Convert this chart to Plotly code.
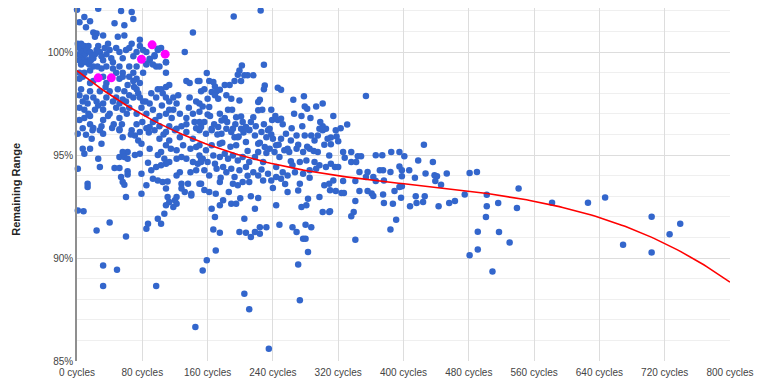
import numpy as np
import plotly.graph_objects as go

# ---------------- data (cycles, remaining range %) ----------------
# region: early cycles, upper part
cyc_a = [0,7,26,54,67,9,3,16,11,20,
         24,22,32,46,58,69,50,58,77,67,
         142,132,1,3,5,7,9,2,4,6,
         8,10,12,14,16,18,13,3,5,7,
         11,15,17,20,22,24,26,28,30,32,
         34,36,38,40,42,44,20,25,30,48,
         52,56,60,64,69,73,77,81,85,89,
         95,99,103,97,101,109,109,93,85,73,
         69,64,56,52,44,36,16,9,7,3,
         3,99,89,95,109,85]
rng_a = [102.05,102.2,102.1,102.0,101.95,101.7,101.45,101.5,101.2,100.95,
         100.9,100.75,100.8,101.4,101.3,101.6,100.75,100.8,100.6,100.4,
         100.95,100.0,100.4,100.2,100.4,100.1,100.3,99.9,99.8,100.0,
         99.7,99.9,100.1,100.3,100.0,99.8,99.6,99.6,99.4,99.5,
         99.5,99.4,99.6,99.7,99.9,100.1,100.3,100.0,99.8,99.6,
         100.2,99.9,100.4,100.1,99.7,99.5,99.3,99.3,99.2,100.2,
         100.0,99.7,100.1,100.2,99.8,100.0,100.3,100.1,100.0,99.6,
         99.8,100.1,100.2,99.3,99.3,99.5,99.0,99.4,99.4,99.3,
         99.0,99.3,99.0,99.3,99.2,99.3,99.1,99.0,98.8,98.7,
         99.0,100.16,99.68,99.84,99.51,99.43]

# region: early cycles, 96-99 %
cyc_b = [16,20,32,36,48,52,56,64,69,73,
         77,81,73,62,58,64,69,75,77,81,
         89,97,99,103,109,113,105,109,113,118,
         122,118,113,134,138,148,152,146,138,150,
         3,7,11,16,13,20,24,28,32,36,
         40,44,48,52,56,60,3,9,16,22,
         32,40,48,56,64,73,79,85,93,101,
         109,126,134,142,3,16,32,52,73,93,
         113,134,150,7,52,85,101,120,146]
rng_b = [98.5,98.6,98.8,98.5,99.0,98.7,98.8,98.8,98.6,98.7,
         98.5,99.0,98.2,98.4,98.1,97.9,97.8,98.0,97.8,97.6,
         97.5,97.8,98.2,98.2,98.3,98.4,98.0,97.8,97.6,97.8,
         97.5,97.2,97.2,98.6,98.5,98.6,98.1,97.6,97.8,97.5,
         97.9,97.6,97.8,98.1,97.5,97.8,97.6,98.1,97.5,97.8,
         98.1,97.6,97.8,97.5,97.7,97.6,97.3,97.2,96.9,97.2,
         97.2,97.0,97.3,97.2,97.3,97.0,97.3,97.0,97.2,96.9,
         97.0,97.0,96.8,97.0,96.7,96.5,96.7,96.8,96.5,96.6,
         96.4,96.5,96.6,96.3,96.2,96.3,96.4,96.2,96.3]

# region: 150-310 cycles, upper part
cyc_c = [192,225,202,229,199,197,205,209,216,159,
         193,201,162,167,181,187,150,169,156,175,
         230,229,246,250,165,171,183,189,199,169,
         173,160,224,222,265,278,279,282,293,301,
         154,162,185,190,222,227,238,150,160,175,
         181,195,201,216,239,246,250,275,156,177,
         203,301,165,191,207,211,236,297,305,
         354,331,317,311,320,311,425]
rng_c = [101.73,102.02,99.35,99.39,99.1,98.9,98.87,98.87,98.87,98.98,
         98.6,98.6,98.6,98.55,98.4,98.4,98.6,98.33,98.2,98.17,
         98.38,98.2,98.27,98.17,98.06,98.1,97.9,97.73,97.65,97.9,
         97.73,97.73,97.69,97.57,97.69,97.86,97.36,97.25,97.36,97.5,
         97.36,97.33,97.2,97.2,97.17,97.2,97.2,97.1,96.97,97.0,
         96.8,96.84,96.87,96.84,96.7,96.7,96.76,96.9,96.6,96.68,
         96.6,96.4,96.28,96.28,96.3,96.23,96.28,96.28,96.28,
         97.87,96.48,96.2,95.85,95.67,95.52,95.5]

# region: early cycles, 91-96.5 %
cyc_d = [1,11,20,28,32,18,30,43,52,56,
         67,71,77,75,79,89,95,101,109,113,
         122,126,134,142,150,146,139,130,122,115,
         109,103,107,113,122,128,134,142,148,152,
         146,139,126,122,109,103,97,91,89,99,
         77,71,62,56,52,58,62,7,9,16,
         26,28,1,46,52,62,62,54,56,58,
         79,87,93,99,105,111,109,128,136,128,
         132,140,140,150,85,79,60,111,122,120,
         113,109,122,118,107,99,103,87,85,40,
         24,60,13,13,1,8]
rng_d = [96.04,95.99,96.31,96.2,96.04,95.79,95.55,96.31,96.25,95.87,
         96.2,95.95,96.12,95.71,95.55,96.36,96.2,95.79,96.12,95.71,
         96.28,95.87,96.12,95.79,96.2,95.39,95.31,95.47,95.23,95.31,
         95.47,95.15,94.82,94.66,94.82,94.9,94.82,94.66,94.58,94.82,
         94.26,94.17,94.17,94.01,94.58,94.5,94.42,94.26,95.31,95.0,
         95.06,95.0,95.15,95.15,94.9,94.9,94.82,95.31,95.06,95.31,
         94.82,94.42,94.34,94.37,94.37,94.21,94.05,93.93,93.69,93.56,
         94.09,94.63,93.85,93.77,93.69,93.72,93.37,93.61,93.61,93.37,
         93.2,93.12,93.04,93.61,93.53,93.12,92.96,92.96,92.96,92.8,
         92.72,92.56,92.64,92.48,92.15,91.91,91.67,91.67,91.42,91.72,
         91.34,91.05,93.61,93.45,92.31,92.27]

# region: 150-310 cycles, 90-96.5 %
cyc_e = [152,158,165,173,177,183,189,193,201,207,
         211,218,226,234,240,256,262,269,279,287,
         295,301,307,291,150,158,167,154,160,169,
         175,181,185,191,197,203,211,218,222,228,
         236,242,248,254,260,264,273,281,291,297,
         305,311,171,179,183,189,199,207,216,234,
         244,252,258,250,228,203,211,197,191,152,
         162,170,213,222,179,175,189,195,218,165,
         205,244,258,273,271,283,281,275,297,301,
         309,303,309,169,167,175,199,207,213,218,
         224,232,224,248,264,269,277,280,280,287,
         170,283,
         152,150,165,175,195,207,222,230,244,269,
         277,285,295,309,293,285,277,267,244,238,
         222,193,175,162,156,197,250,232]
rng_e = [96.36,96.04,96.2,96.36,96.04,96.28,96.12,95.87,96.28,96.36,
         96.2,95.95,96.12,96.2,95.79,96.04,95.71,95.95,95.95,95.95,
         95.95,96.2,95.79,95.71,95.47,95.23,94.98,94.82,94.66,94.58,
         94.9,95.06,94.82,94.98,94.74,94.9,94.66,94.9,95.15,94.66,
         95.31,95.15,94.9,95.23,95.15,94.5,94.66,94.74,94.66,94.5,
         94.42,94.58,94.34,94.42,94.17,94.34,94.26,94.42,94.17,94.09,
         94.42,94.17,94.01,93.85,93.77,93.69,93.69,93.53,93.61,93.61,
         93.2,93.12,93.0,92.91,92.8,92.56,92.64,92.64,92.39,92.39,
         91.91,92.56,93.2,93.61,93.28,92.88,92.56,92.48,92.96,92.23,
         92.23,93.53,93.61,91.99,91.39,91.23,91.26,91.23,91.02,91.26,
         91.18,91.5,91.5,91.62,91.5,91.26,90.94,90.94,91.62,91.5,
         90.37,90.29,
         94.66,94.98,95.47,95.55,95.47,95.63,95.55,95.39,95.47,95.31,
         95.15,95.31,95.15,94.98,94.34,94.26,94.09,94.17,93.93,93.77,
         94.01,93.93,93.69,94.01,94.26,95.87,95.79,95.87]

# region: 300-500 cycles
cyc_f = [326,336,344,348,366,374,385,395,401,418,
         436,316,320,328,336,342,346,356,371,375,
         384,395,398,407,427,438,441,453,481,490,
         314,326,341,354,363,366,376,398,398,414,
         439,446,310,317,324,327,346,356,361,363,
         375,389,397,395,415,426,424,416,408,387,
         376,443,456,463,475,341,339,336,310,391,
         384,341,481,491,491]
rng_f = [95.15,95.15,94.94,94.94,94.99,94.99,95.15,95.15,94.94,94.74,
         94.66,94.42,94.42,94.87,94.66,94.66,94.18,94.18,94.26,94.26,
         94.18,94.45,94.26,94.26,94.1,94.02,93.97,94.1,94.13,94.18,
         93.77,93.74,93.74,93.94,93.94,93.74,93.77,93.97,93.48,93.9,
         93.74,93.56,93.29,93.26,93.16,93.16,93.26,93.26,93.13,93.01,
         93.09,93.26,92.93,93.45,93.0,93.0,92.72,92.67,92.51,92.64,
         92.67,92.51,92.67,92.77,93.09,92.77,92.24,92.03,92.27,91.86,
         91.38,90.89,90.13,91.27,90.41]

# low outliers and late cycles
cyc_g = [32,49,32,97,159,154,145,205,211,235,271,273,
         502,502,501,509,517,516,541,539,530,582,626,647,704,739,726,669,704]
rng_g = [89.64,89.43,88.64,88.64,89.89,89.4,86.65,88.27,87.51,85.6,89.68,87.95,
         93.07,92.51,91.99,89.35,91.26,92.67,93.37,92.43,90.75,92.68,92.68,92.94,92.01,91.66,91.15,90.64,90.27]

# dense core, extra readings
cyc_h = [163,168,172,178,184,188,194,198,204,209,
         213,219,224,229,232,238,243,247,252,258,
         263,266,271,276,282,286,290,298,303,314,
         318,323,
         5,9,14,19,26,30,35,38,45,50,
         55,61,66,70,80,84,88,91,96,104,
         106,116,124,128,137,144,
         156,176,186,200,209,226,240,255,262,285]
rng_h = [96.9,96.5,96.0,95.6,96.6,95.4,96.5,95.9,96.1,95.2,
         96.6,96.4,95.6,96.5,95.1,96.0,96.9,95.5,96.5,95.3,
         96.3,97.0,95.5,96.4,95.4,96.8,95.2,96.6,95.5,96.9,
         95.9,96.3,
         98.2,96.8,97.0,96.2,97.4,96.4,98.3,96.9,96.5,98.2,
         96.5,97.0,96.0,98.3,96.6,97.6,96.1,98.0,96.7,97.4,
         96.0,96.8,97.9,96.4,97.3,96.6,
         93.3,93.9,93.2,92.9,94.0,94.3,93.4,93.6,94.7,93.9]

# highlighted points
hi_cycles = [26, 42, 79, 92, 108]
hi_range = [98.75, 98.75, 99.65, 100.35, 99.9]

# trendline readings (cubic trend)
trend_cycles = [0, 80, 160, 240, 400, 560, 720, 800]
trend_range = [99.1, 96.9, 95.6, 94.6, 93.5, 92.8, 90.75, 88.8]

x_ticks = [0, 80, 160, 240, 320, 400, 480, 560, 640, 720, 800]
x_labels = [f"{v} cycles" for v in x_ticks]
y_ticks = [85, 90, 95, 100]
y_labels = ["85%", "90%", "95%", "100%"]

pairs = [(cyc_a, rng_a), (cyc_b, rng_b), (cyc_c, rng_c), (cyc_d, rng_d),
         (cyc_e, rng_e), (cyc_f, rng_f), (cyc_g, rng_g), (cyc_h, rng_h)]
for i, (cx, cy) in enumerate(pairs):
    if len(cx) != len(cy):
        raise SystemExit(f"length mismatch in group {i}: {len(cx)} vs {len(cy)}")

cycles = sum((p[0] for p in pairs), [])
remaining = sum((p[1] for p in pairs), [])

coef = np.polyfit(trend_cycles, trend_range, 3)
tx = np.linspace(0, 800, 200)
ty = np.polyval(coef, tx)

FONT = "Arial, 'Liberation Sans', sans-serif"

fig = go.Figure()
fig.add_trace(go.Scatter(x=cycles, y=remaining, mode="markers",
                         marker=dict(size=6.5, color="#3366cc"),
                         cliponaxis=False,
                         showlegend=False, hoverinfo="skip"))
fig.add_trace(go.Scatter(x=tx, y=ty, mode="lines",
                         line=dict(color="#ff0000", width=1.6),
                         showlegend=False, hoverinfo="skip"))
fig.add_trace(go.Scatter(x=hi_cycles, y=hi_range, mode="markers",
                         marker=dict(size=9, color="#ff00ff"),
                         showlegend=False, hoverinfo="skip"))

# page body has an 8px default margin: figure is sized to fit the window
fig.update_layout(
    width=756, height=377,
    margin=dict(l=69, r=34, t=0, b=24),
    paper_bgcolor="white", plot_bgcolor="white",
    font=dict(family=FONT, size=10, color="#444444"),
    xaxis=dict(range=[0, 800], tickvals=x_ticks, ticktext=x_labels,
               showgrid=True, gridcolor="#dddddd", gridwidth=1,
               zeroline=False, showline=False, ticks="",
               ticklabelstandoff=4, automargin=False,
               tickfont=dict(size=10, color="#444444")),
    yaxis=dict(range=[85, 102.14], tickvals=y_ticks, ticktext=y_labels,
               showgrid=True, gridcolor="#dddddd", gridwidth=1,
               minor=dict(dtick=1, tick0=85, showgrid=True, gridcolor="#efefef", gridwidth=1),
               zeroline=False, showline=True, linecolor="#8f8f8f", linewidth=1.5,
               ticks="", ticklabelstandoff=0, automargin=False,
               tickfont=dict(size=10, color="#444444")),
    annotations=[dict(text="<b>Remaining Range</b>", textangle=-90,
                      xref="paper", yref="paper", x=-0.0934, y=0.485,
                      xanchor="center", yanchor="middle", showarrow=False,
                      font=dict(family=FONT, size=11, color="#222222"))],
)

fig.write_html("out.html")
